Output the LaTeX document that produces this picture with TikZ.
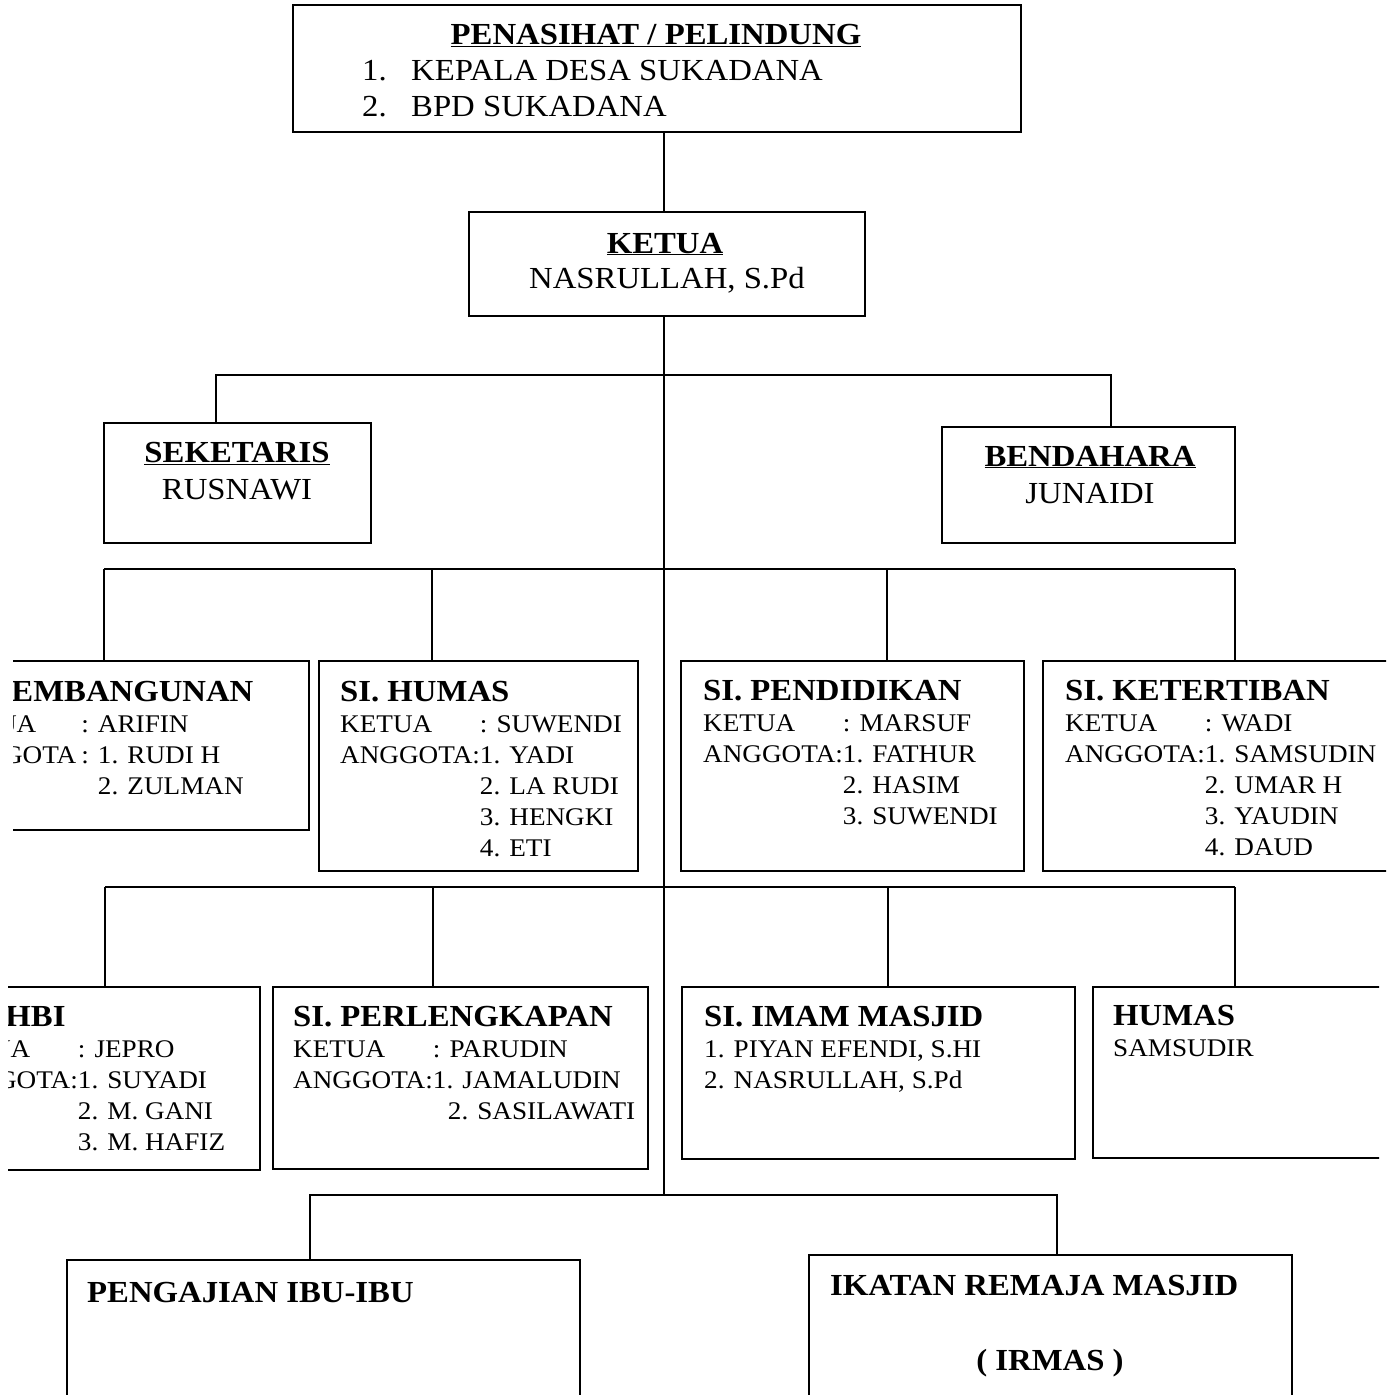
\documentclass[tikz,border=0pt]{standalone}
\usepackage{fontspec}
\setmainfont{Liberation Serif}[FakeStretch=1.07]
\newcommand\bigf{\fontsize{30.6}{36}\selectfont}
\newcommand\bodyf{\fontsize{25.4}{31}\selectfont}
\newcommand\ttl[1]{\multicolumn{2}{@{}l@{}}{\bigf\bfseries #1}}
\newcommand\blk[1]{\begin{tabular}[t]{@{}l@{}l@{}}#1\end{tabular}}
\tikzset{
  box/.style={draw, line width=2.6pt, inner sep=0pt, outer sep=0pt, anchor=north west},
  link/.style={line width=2pt},
  lbl/.style={inner sep=0pt, anchor=base west, font=\bodyf},
  big/.style={inner sep=0pt, anchor=base west, font=\bigf},
  cbig/.style={inner sep=0pt, anchor=base, font=\bigf},
}
\begin{document}
\begin{tikzpicture}[x=1pt,y=-1pt]
\useasboundingbox (0,0) rectangle (1396,1394);
\clip (0,0) rectangle (1396,1394);
\fill[white] (0,0) rectangle (1396,1394);

% ---------- top ----------
\node[box, minimum width=728pt, minimum height=127pt] (pen) at (293,5) {};
\node[cbig] (pent) at (656,45) {\bfseries\underline{PENASIHAT / PELINDUNG}};
\node[big] (penl) at (362,81) {\begin{tabular}[t]{@{}l@{}}\makebox[49pt][l]{1.}KEPALA DESA SUKADANA\\ \makebox[49pt][l]{2.}BPD SUKADANA\end{tabular}};

\node[box, minimum width=396pt, minimum height=104pt] (ket) at (469,212) {};
\node[cbig] (kett) at (665,253) {\bfseries\underline{KETUA}};
\node[cbig] (ketn) at (667,288) {NASRULLAH, S.Pd};

\node[box, minimum width=267pt, minimum height=120pt] (sek) at (104,423) {};
\node[cbig] (sekt) at (237,462) {\bfseries\underline{SEKETARIS}};
\node[cbig] (sekn) at (237,499) {RUSNAWI};

\node[box, minimum width=293pt, minimum height=116pt] (ben) at (942,427) {};
\node[cbig] (bent) at (1090,466) {\bfseries\underline{BENDAHARA}};
\node[cbig] (benn) at (1090,503) {JUNAIDI};

% ---------- row 1 ----------
\begin{scope}
\clip (13,0) rectangle (1396,1394);
\node[box, minimum width=349pt, minimum height=169pt] (pemb) at (-40,661) {};
\node[lbl] (pembt) at (-56,701) {\blk{\ttl{SI. PEMBANGUNAN}\\ KETUA & \hspace{5pt}: ARIFIN\\ ANGGOTA & \hspace{5pt}: 1. RUDI H\\ & \hspace{5pt}\phantom{: }2. ZULMAN}};
\end{scope}

\node[box, minimum width=319pt, minimum height=210pt] (hum) at (319,661) {};
\node[lbl] (humt) at (340,701) {\blk{\ttl{SI. HUMAS}\\ KETUA & : SUWENDI\\ ANGGOTA: & 1. YADI\\ & 2. LA RUDI\\ & 3. HENGKI\\ & 4. ETI}};

\node[box, minimum width=343pt, minimum height=210pt] (pend) at (681,661) {};
\node[lbl] (pendt) at (703,700) {\blk{\ttl{SI. PENDIDIKAN}\\ KETUA & : MARSUF\\ ANGGOTA: & 1. FATHUR\\ & 2. HASIM\\ & 3. SUWENDI}};

\begin{scope}
\clip (0,0) rectangle (1386,1394);
\node[box, minimum width=400pt, minimum height=210pt] (tert) at (1043,661) {};
\node[lbl] (tertt) at (1065,700) {\blk{\ttl{SI. KETERTIBAN}\\ KETUA & : WADI\\ ANGGOTA: & 1. SAMSUDIN\\ & 2. UMAR H\\ & 3. YAUDIN\\ & 4. DAUD}};
\end{scope}

% ---------- row 2 ----------
\begin{scope}
\clip (8,0) rectangle (1396,1394);
\node[box, minimum width=300pt, minimum height=183pt] (phbi) at (-40,987) {};
\node[lbl] (phbit) at (-62,1026) {\blk{\ttl{SI. PHBI}\\ KETUA & : JEPRO\\ ANGGOTA: & 1. SUYADI\\ & 2. M. GANI\\ & 3. M. HAFIZ}};
\end{scope}

\node[box, minimum width=375pt, minimum height=182pt] (perl) at (273,987) {};
\node[lbl] (perlt) at (293,1026) {\blk{\ttl{SI. PERLENGKAPAN}\\ KETUA & : PARUDIN\\ ANGGOTA: & 1. JAMALUDIN\\ & \hspace{15pt}2. SASILAWATI}};

\node[box, minimum width=393pt, minimum height=172pt] (imam) at (682,987) {};
\node[lbl] (imamt) at (704,1026) {\blk{\ttl{SI. IMAM MASJID}\\ 1. PIYAN EFENDI, S.HI\\ 2. NASRULLAH, S.Pd}};

\begin{scope}
\clip (0,0) rectangle (1379,1394);
\node[box, minimum width=400pt, minimum height=171pt] (hum2) at (1093,987) {};
\node[lbl] (hum2t) at (1113,1025) {\blk{\ttl{HUMAS}\\ SAMSUDIR}};
\end{scope}

% ---------- bottom ----------
\node[box, minimum width=513pt, minimum height=200pt] (peng) at (67,1260) {};
\node[big] (pengt) at (87,1302) {\bfseries PENGAJIAN IBU-IBU};

\node[box, minimum width=483pt, minimum height=200pt] (irm) at (809,1255) {};
\node[big] (irmt) at (830,1295) {\bfseries IKATAN REMAJA MASJID};
\node[cbig] (irmn) at (1050,1370) {\bfseries ( IRMAS )};

% ---------- connectors ----------
\coordinate (tx) at (664,0);
\coordinate (s1) at (216,375);  \coordinate (s2) at (1111,375);
\coordinate (r1a) at (104,569); \coordinate (r1b) at (432,569);
\coordinate (r1c) at (887,569); \coordinate (r1d) at (1235,569);
\coordinate (r2a) at (105,887); \coordinate (r2b) at (433,887);
\coordinate (r2c) at (888,887); \coordinate (r2d) at (1235,887);
\coordinate (r3a) at (310,1195); \coordinate (r3b) at (1057,1195);

\draw[link] (pen.south -| tx) -- (ket.north -| tx);
\draw[link] (ket.south -| tx) -- (r3a -| tx);

\draw[link] (sek.north -| s1) -- (s1) -- (s2) -- (ben.north -| s2);

\draw[link] (r1a) -- (r1d);
\draw[link] (r1a) -- (r1a |- pemb.north);
\draw[link] (r1b) -- (r1b |- hum.north);
\draw[link] (r1c) -- (r1c |- pend.north);
\draw[link] (r1d) -- (r1d |- tert.north);

\draw[link] (r2a) -- (r2d);
\draw[link] (r2a) -- (r2a |- phbi.north);
\draw[link] (r2b) -- (r2b |- perl.north);
\draw[link] (r2c) -- (r2c |- imam.north);
\draw[link] (r2d) -- (r2d |- hum2.north);

\draw[link] (peng.north -| r3a) -- (r3a) -- (r3b) -- (irm.north -| r3b);
\end{tikzpicture}
\end{document}
